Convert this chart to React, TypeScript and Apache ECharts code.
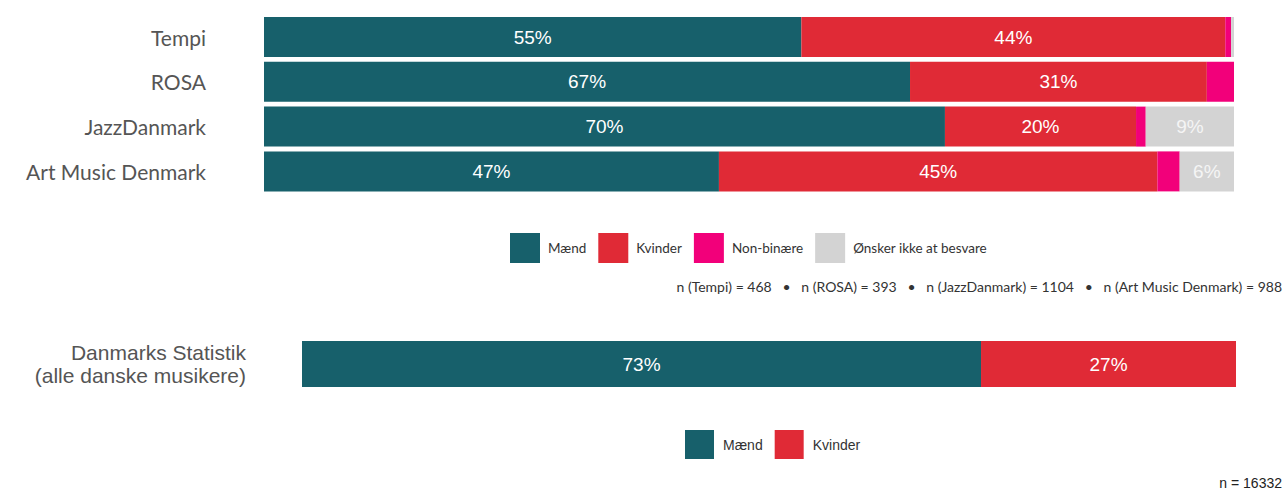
import React, { useEffect, useRef } from "react";
import * as echarts from "echarts";

const categories = ["Tempi", "ROSA", "JazzDanmark", "Art Music Denmark"];
const maend = [55.4, 66.6, 70.2, 46.9];
const kvinder = [43.7, 30.6, 19.7, 45.2];
const nonBinaere = [0.6, 2.8, 1.0, 2.3];
const oensker = [0.3, 0, 9.1, 5.6];

const dsCategories = ["Danmarks Statistik\n(alle danske musikere)"];
const dsMaend = [72.7];
const dsKvinder = [27.3];

const nText = "n (Tempi) = 468   •   n (ROSA) = 393   •   n (JazzDanmark) = 1104   •   n (Art Music Denmark) = 988";
const nDsText = "n = 16332";

const C_M = "#17606b";
const C_K = "#e02a36";
const C_N = "#f2007a";
const C_O = "#d3d3d3";

const geo = "Lato, 'DejaVu Sans', sans-serif";
const arial = "'Liberation Sans', Arial, sans-serif";

export default function App() {
  const ref = useRef<HTMLDivElement>(null);
  useEffect(() => {
    if (!ref.current) return;
    const chart = echarts.init(ref.current, undefined, { renderer: "svg" });
    const fmt = (p: any) => (p.value >= 5 ? Math.round(p.value) + "%" : "");
    const lbl = (color: string) => ({
      show: true,
      position: "inside",
      formatter: fmt,
      color,
      fontSize: 19,
      fontFamily: arial,
    });
    const mk = (name: string, data: number[], color: string, idx: number, lc: string) => ({
      name,
      type: "bar",
      stack: "s" + idx,
      xAxisIndex: idx,
      yAxisIndex: idx,
      data,
      barWidth: idx === 0 ? 40 : 46,
      itemStyle: { color },
      label: lbl(lc),
      emphasis: { disabled: true },
    });
    chart.setOption({
      animation: false,
      grid: [
        { left: 264, right: 50, top: 14.6, height: 179.2, containLabel: false },
        { left: 302, right: 48, top: 341, height: 46, containLabel: false },
      ],
      xAxis: [
        { type: "value", min: 0, max: 100, gridIndex: 0, show: false },
        { type: "value", min: 0, max: 100, gridIndex: 1, show: false },
      ],
      yAxis: [
        {
          type: "category",
          data: categories,
          inverse: true,
          gridIndex: 0,
          axisLine: { show: false },
          axisTick: { show: false },
          axisLabel: { margin: 58, fontSize: 21, color: "#555", fontFamily: geo },
        },
        {
          type: "category",
          data: dsCategories,
          gridIndex: 1,
          axisLine: { show: false },
          axisTick: { show: false },
          axisLabel: {
            margin: 56,
            fontSize: 21,
            lineHeight: 23,
            color: "#555",
            fontFamily: arial,
            align: "right",
          },
        },
      ],
      legend: [
        {
          data: ["Mænd", "Kvinder", "Non-binære", "Ønsker ikke at besvare"],
          left: 510,
          top: 233,
          padding: 0,
          icon: "rect",
          itemWidth: 30,
          itemHeight: 30,
          itemGap: 12,
          selectedMode: false,
          textStyle: { fontSize: 13.5, color: "#333", fontFamily: geo, padding: [0, 0, 0, 3] },
        },
        {
          data: ["Mænd", "Kvinder"],
          left: 685,
          top: 430,
          padding: 0,
          icon: "rect",
          itemWidth: 29,
          itemHeight: 29,
          itemGap: 12,
          selectedMode: false,
          textStyle: { fontSize: 14, color: "#333", fontFamily: arial, padding: [0, 0, 0, 4] },
        },
      ],
      graphic: [
        {
          type: "text",
          right: 2,
          top: 279,
          style: { text: nText, fill: "#333", font: "14px " + geo },
        },
        {
          type: "text",
          right: 2,
          top: 476,
          style: { text: nDsText, fill: "#222", font: "14px " + arial },
        },
      ],
      series: [
        mk("Mænd", maend, C_M, 0, "#fff"),
        mk("Kvinder", kvinder, C_K, 0, "#fff"),
        mk("Non-binære", nonBinaere, C_N, 0, "#fff"),
        mk("Ønsker ikke at besvare", oensker, C_O, 0, "#f5f5f5"),
        mk("Mænd", dsMaend, C_M, 1, "#fff"),
        mk("Kvinder", dsKvinder, C_K, 1, "#fff"),
      ],
    });
    return () => chart.dispose();
  }, []);
  return (
    <div
      ref={ref}
      style={{ position: "absolute", left: 0, top: 0, width: 1284, height: 490, background: "#fff" }}
    />
  );
}
